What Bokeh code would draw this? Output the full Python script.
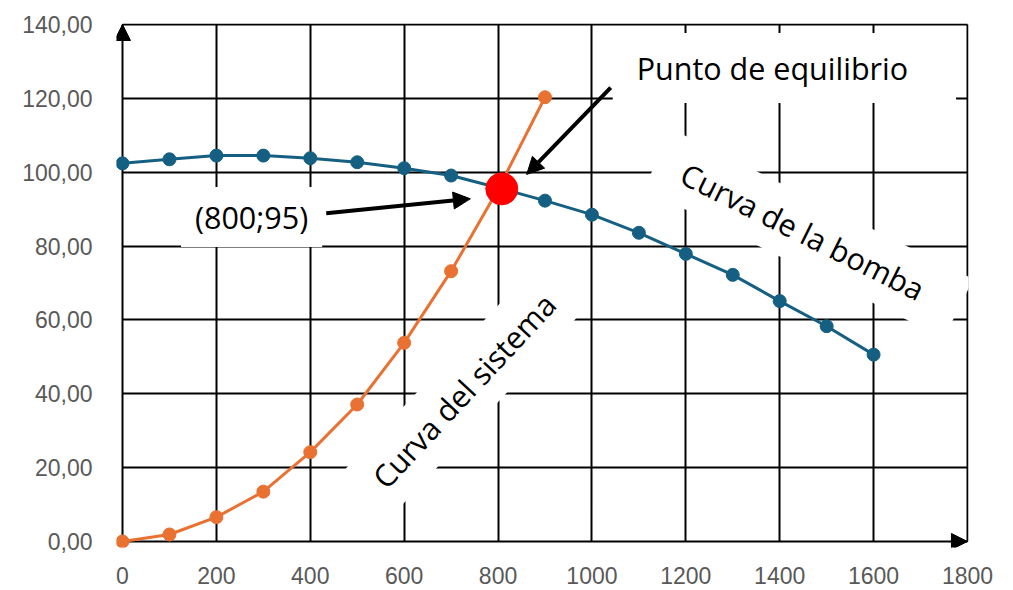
from bokeh.plotting import figure
from bokeh.models import Range1d, FixedTicker, Arrow, NormalHead
from bokeh.core.properties import value
from bokeh.embed import file_html
from bokeh.resources import INLINE
import math

# ---------------- data ----------------
caudal_bomba = [0, 100, 200, 300, 400, 500, 600, 700, 800, 900, 1000, 1100, 1200, 1300, 1400, 1500, 1600]
altura_bomba = [102.4, 103.5, 104.5, 104.5, 103.8, 102.7, 101.1, 99.1, 95.8, 92.3, 88.5, 83.6, 77.9, 72.2, 65.1, 58.3, 50.6]

caudal_sistema = [0, 100, 200, 300, 400, 500, 600, 700, 800, 900]
altura_sistema = [0.0, 1.9, 6.6, 13.5, 24.2, 37.1, 53.8, 73.2, 95.3, 120.3]

equilibrio_x = [808]
equilibrio_y = [95.5]

x_ticks = [0, 200, 400, 600, 800, 1000, 1200, 1400, 1600, 1800]
x_tick_labels = ["0", "200", "400", "600", "800", "1000", "1200", "1400", "1600", "1800"]
y_ticks = [0, 20, 40, 60, 80, 100, 120, 140]
y_tick_labels = ["0,00", "20,00", "40,00", "60,00", "80,00", "100,00", "120,00", "140,00"]

# ---------------- figure ----------------
BLUE = "#156082"
ORANGE = "#E97132"
FONT = "Open Sans"

p = figure(width=1008, height=588,
           x_range=Range1d(-12.8, 1802.2), y_range=Range1d(-1.625, 140.27),
           output_backend="svg", toolbar_location=None,
           min_border_left=116, min_border_right=40,
           min_border_top=23, min_border_bottom=41)
p.outline_line_color = None
p.background_fill_color = "white"

for ax, ticks, labels in ((p.xaxis[0], x_ticks, x_tick_labels), (p.yaxis[0], y_ticks, y_tick_labels)):
    ax.ticker = FixedTicker(ticks=ticks)
    ax.major_label_overrides = {t: l for t, l in zip(ticks, labels)}
    ax.axis_line_color = None
    ax.major_tick_line_color = None
    ax.minor_tick_line_color = None
    ax.major_label_text_font = "Liberation Sans"
    ax.major_label_text_font_size = "23px"
    ax.major_label_text_color = "#595959"
p.xaxis.major_label_standoff = 13
p.yaxis.major_label_standoff = 18

p.xgrid.ticker = FixedTicker(ticks=x_ticks)
p.ygrid.ticker = FixedTicker(ticks=y_ticks)
for g in (p.xgrid[0], p.ygrid[0]):
    g.grid_line_color = "black"
    g.grid_line_width = 2
    g.grid_line_alpha = 1
p.xgrid.cross_bounds = (0, 140)
p.ygrid.cross_bounds = (0, 1800)

# ---------------- text boxes (white background, under the curves) ----------------
def label(x, y, txt, angle_deg, pad):
    p.text(x=[x], y=[y], text=[txt], angle=math.radians(angle_deg),
           text_font=value(FONT), text_font_size=value("30.5px"), text_color="black",
           text_align="center", text_baseline="middle",
           background_fill_color="white", padding=pad)

label(1410, 128.2, "Punto de equilibrio", 0, dict(left=24, right=48, top=14, bottom=14))
label(275, 87.9, "(800;95)", 0, dict(left=14, right=14, top=9, bottom=9))
label(1461, 83.3, "Curva de la bomba", -26.5, dict(left=28, right=40, top=12, bottom=12))
label(727, 40.9, "Curva del sistema", 47, dict(left=20, right=20, top=12, bottom=12))

# ---------------- curves ----------------
p.line(caudal_bomba, altura_bomba, line_color=BLUE, line_width=3)
p.scatter(caudal_bomba, altura_bomba, size=13, fill_color=BLUE, line_color=BLUE)
p.line(caudal_sistema, altura_sistema, line_color=ORANGE, line_width=3)
p.scatter(caudal_sistema, altura_sistema, size=13, fill_color=ORANGE, line_color=ORANGE)
p.scatter(equilibrio_x, equilibrio_y, size=32, fill_color="#FF0000", line_color="#FF0000")

# ---------------- axis arrow heads (axis lines are the grid lines at 0) ----------------
p.add_layout(Arrow(end=NormalHead(size=16, fill_color="black", line_color="black"),
                   x_start=0, y_start=120, x_end=0, y_end=140,
                   line_color=None))
p.add_layout(Arrow(end=NormalHead(size=16, fill_color="black", line_color="black"),
                   x_start=1600, y_start=0, x_end=1800, y_end=0,
                   line_color=None))

# ---------------- annotation arrows ----------------
p.add_layout(Arrow(end=NormalHead(size=17, fill_color="black", line_color="black"),
                   x_start=434, y_start=88.9, x_end=741, y_end=92.8,
                   line_color="black", line_width=4))
p.add_layout(Arrow(end=NormalHead(size=17, fill_color="black", line_color="black"),
                   x_start=1040, y_start=122.9, x_end=861, y_end=99.4,
                   line_color="black", line_width=4))

open("out.html", "w").write(file_html(p, INLINE))
